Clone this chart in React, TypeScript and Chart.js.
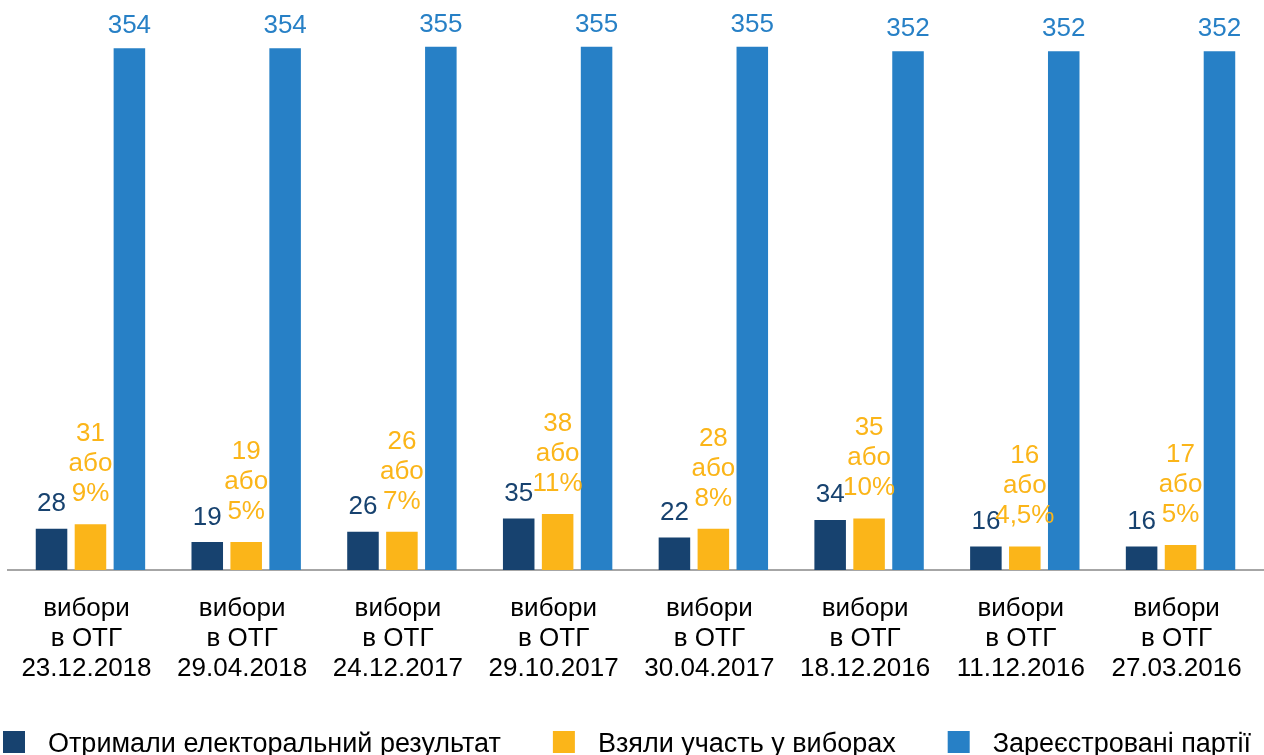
import React, { useEffect, useRef } from 'react';
import { Chart, registerables } from 'chart.js';

Chart.register(...registerables);

const FONT = '"Liberation Sans", Arial, sans-serif';

const categories: string[][] = [
  ['вибори', 'в ОТГ', '23.12.2018'],
  ['вибори', 'в ОТГ', '29.04.2018'],
  ['вибори', 'в ОТГ', '24.12.2017'],
  ['вибори', 'в ОТГ', '29.10.2017'],
  ['вибори', 'в ОТГ', '30.04.2017'],
  ['вибори', 'в ОТГ', '18.12.2016'],
  ['вибори', 'в ОТГ', '11.12.2016'],
  ['вибори', 'в ОТГ', '27.03.2016'],
];

const electoralResult = [28, 19, 26, 35, 22, 34, 16, 16];
const participated = [31, 19, 26, 38, 28, 35, 16, 17];
const participatedShare = ['9%', '5%', '7%', '11%', '8%', '10%', '4,5%', '5%'];
const registered = [354, 354, 355, 355, 355, 352, 352, 352];

const seriesNames = [
  'Отримали електоральний результат',
  'Взяли участь у виборах',
  'Зареєстровані партії',
];
const seriesColors = ['#17426F', '#FBB519', '#2780C6'];
const orWord = 'або';

const axisLinePlugin = {
  id: 'axisLine',
  beforeDatasetsDraw(chart: any) {
    const ctx = chart.ctx;
    const y = chart.scales.y.getPixelForValue(0);
    ctx.save();
    ctx.strokeStyle = '#A6A6A6';
    ctx.lineWidth = 2;
    ctx.beginPath();
    ctx.moveTo(7, y);
    ctx.lineTo(chart.width, y);
    ctx.stroke();
    ctx.restore();
  },
};

const labelPlugin = {
  id: 'barLabels',
  afterDatasetsDraw(chart: any) {
    const ctx = chart.ctx;
    ctx.save();
    ctx.font = `26px ${FONT}`;
    ctx.textAlign = 'center';
    ctx.textBaseline = 'alphabetic';
    chart.data.datasets.forEach((ds: any, di: number) => {
      const meta = chart.getDatasetMeta(di);
      meta.data.forEach((bar: any, i: number) => {
        ctx.fillStyle = seriesColors[di];
        const x = bar.x;
        const y = bar.y;
        if (di === 1) {
          const lines = [String(participated[i]), orWord, participatedShare[i]];
          lines.forEach((l, k) => ctx.fillText(l, x, y - 23 - (2 - k) * 30));
        } else {
          ctx.fillText(String(ds.data[i]), x, y - (di === 0 ? 17.5 : 15));
        }
      });
    });
    ctx.restore();
  },
};

const legendPlugin = {
  id: 'bottomLegend',
  afterDraw(chart: any) {
    const ctx = chart.ctx;
    ctx.save();
    ctx.font = `27px ${FONT}`;
    ctx.textAlign = 'left';
    ctx.textBaseline = 'alphabetic';
    const boxSize = 22;
    const boxTop = chart.height - 24;
    const baseline = chart.height - 3;
    let x = 3;
    chart.data.datasets.forEach((ds: any) => {
      ctx.fillStyle = ds.backgroundColor;
      ctx.fillRect(x, boxTop, boxSize, boxSize);
      ctx.fillStyle = '#000';
      ctx.fillText(ds.label, x + boxSize + 23, baseline);
      x += boxSize + 23 + ctx.measureText(ds.label).width + 52;
    });
    ctx.restore();
  },
};

export default function App() {
  const ref = useRef<HTMLCanvasElement | null>(null);

  useEffect(() => {
    if (!ref.current) return;
    const chart = new Chart(ref.current, {
      type: 'bar',
      data: {
        labels: categories,
        datasets: [
          { label: seriesNames[0], data: electoralResult, backgroundColor: seriesColors[0] },
          { label: seriesNames[1], data: participated, backgroundColor: seriesColors[1] },
          { label: seriesNames[2], data: registered, backgroundColor: seriesColors[2] },
        ],
      },
      options: {
        responsive: false,
        animation: false,
        categoryPercentage: 0.75,
        barPercentage: 0.81,
        layout: { padding: { left: 12.6, right: 5.6, top: 10, bottom: 48 } },
        scales: {
          x: {
            grid: { display: false, drawTicks: false },
            border: { display: false },
            ticks: {
              color: '#000',
              font: { size: 26, family: FONT, lineHeight: 30 / 26 },
              padding: 23.5,
              labelOffset: -4,
              maxRotation: 0,
              autoSkip: false,
            },
            afterFit: (scale: any) => {
              scale.paddingLeft = 0;
              scale.paddingRight = 0;
            },
          },
          y: { display: false, min: 0, max: 380 },
        },
        plugins: {
          legend: { display: false },
          tooltip: { enabled: false },
        },
      } as any,
      plugins: [axisLinePlugin, labelPlugin, legendPlugin],
    });
    return () => chart.destroy();
  }, []);

  return (
    <div style={{ position: 'fixed', left: 0, top: 0, width: 1264, height: 755, overflow: 'hidden', background: '#fff' }}>
      <canvas ref={ref} width={1264} height={755} style={{ display: 'block' }} />
    </div>
  );
}
